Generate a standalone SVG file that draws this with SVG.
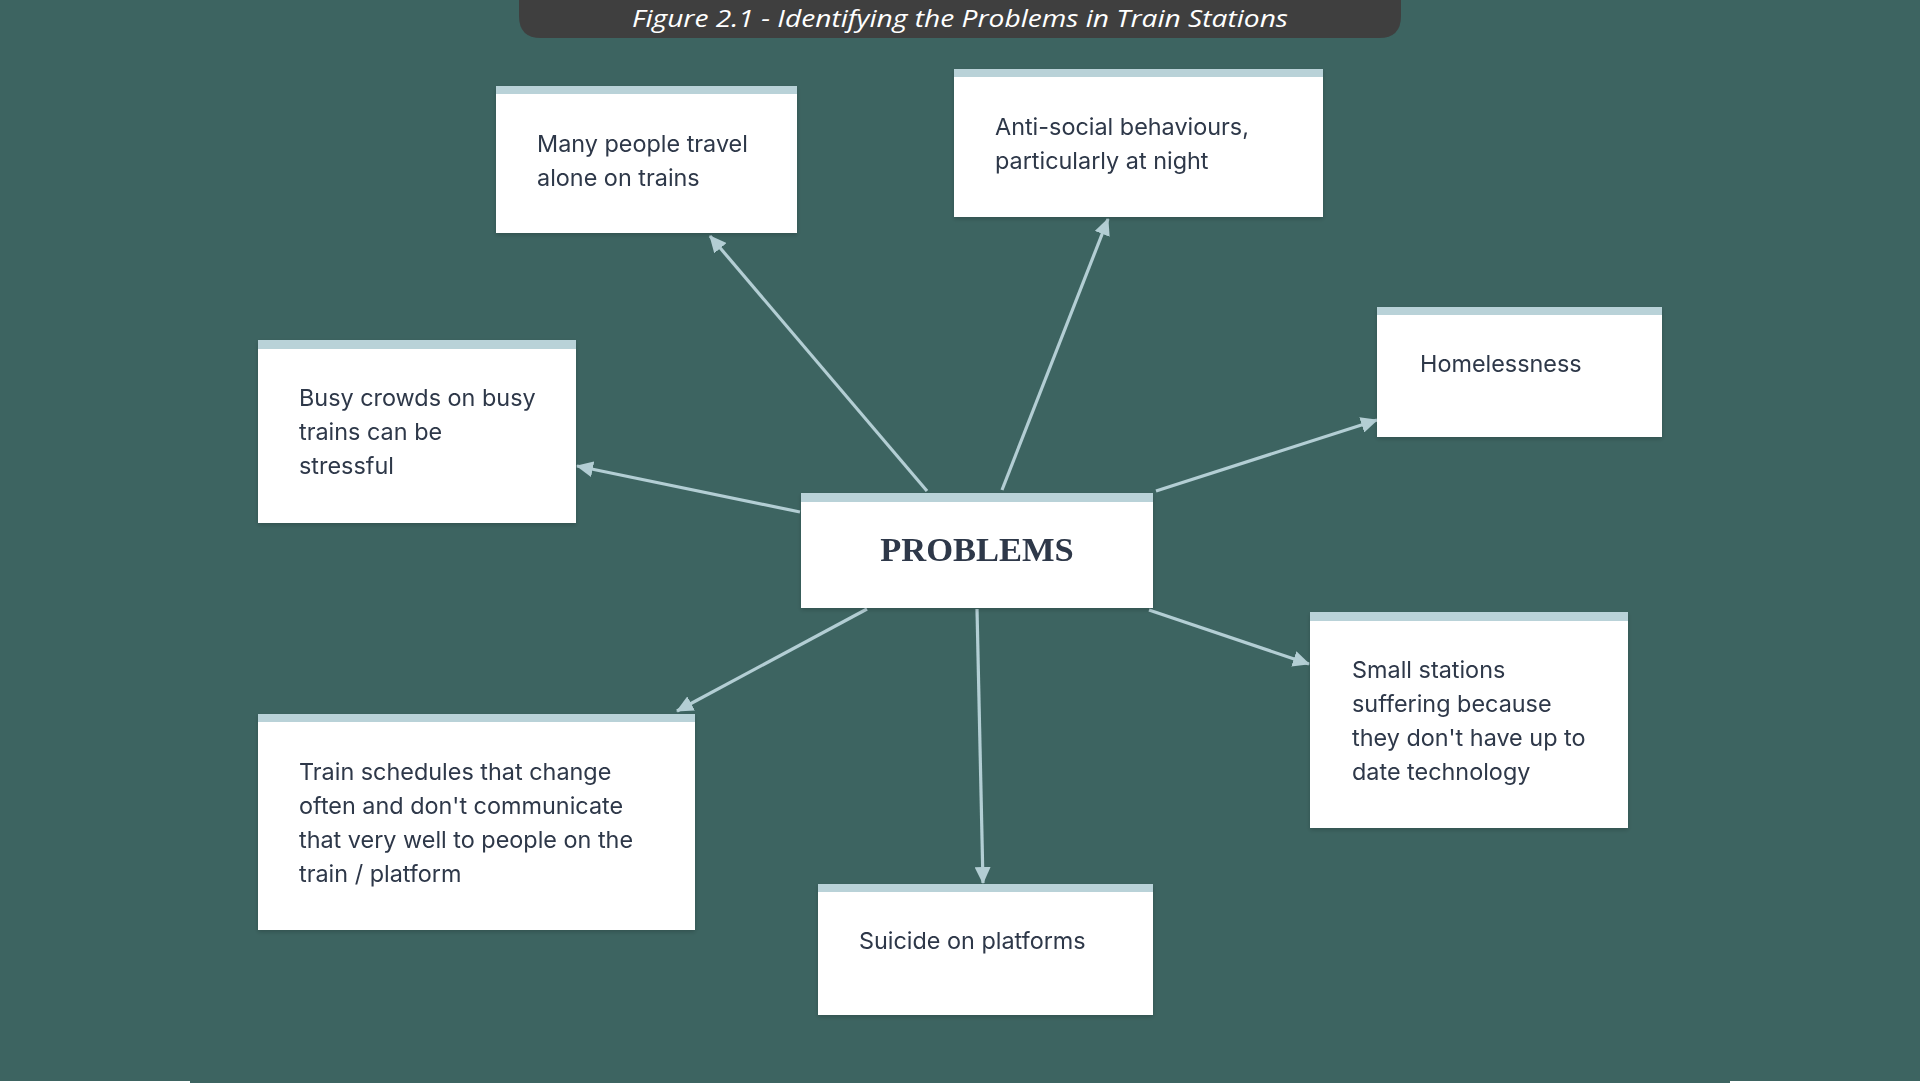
<svg xmlns="http://www.w3.org/2000/svg" width="1920" height="1083" viewBox="0 0 1920 1083">
<defs>
<style>
.box{fill:#ffffff}
.bar{fill:#b9d2d8}
.t{font-family:Inter,"Noto Sans","Liberation Sans",sans-serif;font-size:23.4px;fill:#2d3748}
.c{stroke:#b3ced4;stroke-width:3.2;fill:none;marker-end:url(#ah)}
</style>
<marker id="ah" markerUnits="userSpaceOnUse" markerWidth="18" markerHeight="16" refX="16" refY="8" orient="auto">
<path d="M0,0 L17,8 L0,16 Z" fill="#b3ced4"/>
</marker>
<filter id="sh" x="-5%" y="-5%" width="110%" height="115%">
<feDropShadow dx="0" dy="2" stdDeviation="2" flood-color="#000" flood-opacity="0.18"/>
</filter>
</defs>
<rect x="0" y="0" width="1920" height="1083" fill="#3d6461"/>
<rect x="0" y="1081" width="190" height="2" fill="#ffffff"/>
<rect x="1730" y="1081" width="190" height="2" fill="#ffffff"/>
<g id="title">
<path d="M519,0 H1401 V16 Q1401,38 1379,38 H541 Q519,38 519,16 Z" fill="#3f3f3f"/>
<text x="960" y="27" text-anchor="middle" font-family="'Open Sans','Noto Sans','Liberation Sans',sans-serif" font-style="italic" font-size="24" fill="#ffffff" textLength="656" lengthAdjust="spacingAndGlyphs">Figure 2.1 - Identifying the Problems in Train Stations</text>
</g>
<g id="connectors">
<line class="c" x1="927" y1="491" x2="710" y2="236"/>
<line class="c" x1="1002" y1="490" x2="1108" y2="219"/>
<line class="c" x1="1156" y1="491" x2="1377" y2="420"/>
<line class="c" x1="800" y1="512" x2="577" y2="466"/>
<line class="c" x1="867" y1="609" x2="677" y2="711"/>
<line class="c" x1="977" y1="609" x2="983" y2="883"/>
<line class="c" x1="1149" y1="610" x2="1309" y2="664"/>
</g>
<g id="problems" filter="url(#sh)">
<rect class="box" x="801" y="493" width="352" height="115"/>
<rect class="bar" x="801" y="493" width="352" height="9"/>
<text x="977" y="561" text-anchor="middle" font-family="'Liberation Serif','DejaVu Serif',serif" font-weight="bold" font-size="34.5" fill="#2d3748">PROBLEMS</text>
</g>
<g id="alone" filter="url(#sh)">
<rect class="box" x="496" y="86" width="301" height="147"/>
<rect class="bar" x="496" y="86" width="301" height="8"/>
<text class="t" x="537" y="152">Many people travel</text>
<text class="t" x="537" y="186">alone on trains</text>
</g>
<g id="antisocial" filter="url(#sh)">
<rect class="box" x="954" y="69" width="369" height="148"/>
<rect class="bar" x="954" y="69" width="369" height="8"/>
<text class="t" x="995" y="135">Anti-social behaviours,</text>
<text class="t" x="995" y="169">particularly at night</text>
</g>
<g id="homeless" filter="url(#sh)">
<rect class="box" x="1377" y="307" width="285" height="130"/>
<rect class="bar" x="1377" y="307" width="285" height="8"/>
<text class="t" x="1420" y="372">Homelessness</text>
</g>
<g id="crowds" filter="url(#sh)">
<rect class="box" x="258" y="340" width="318" height="183"/>
<rect class="bar" x="258" y="340" width="318" height="9"/>
<text class="t" x="299" y="406">Busy crowds on busy</text>
<text class="t" x="299" y="440">trains can be</text>
<text class="t" x="299" y="474">stressful</text>
</g>
<g id="schedules" filter="url(#sh)">
<rect class="box" x="258" y="714" width="437" height="216"/>
<rect class="bar" x="258" y="714" width="437" height="8"/>
<text class="t" x="299" y="780">Train schedules that change</text>
<text class="t" x="299" y="814">often and don't communicate</text>
<text class="t" x="299" y="848">that very well to people on the</text>
<text class="t" x="299" y="882">train / platform</text>
</g>
<g id="suicide" filter="url(#sh)">
<rect class="box" x="818" y="884" width="335" height="131"/>
<rect class="bar" x="818" y="884" width="335" height="8"/>
<text class="t" x="859" y="949">Suicide on platforms</text>
</g>
<g id="small" filter="url(#sh)">
<rect class="box" x="1310" y="612" width="318" height="216"/>
<rect class="bar" x="1310" y="612" width="318" height="9"/>
<text class="t" x="1352" y="678">Small stations</text>
<text class="t" x="1352" y="712">suffering because</text>
<text class="t" x="1352" y="746">they don't have up to</text>
<text class="t" x="1352" y="780">date technology</text>
</g>
</svg>
